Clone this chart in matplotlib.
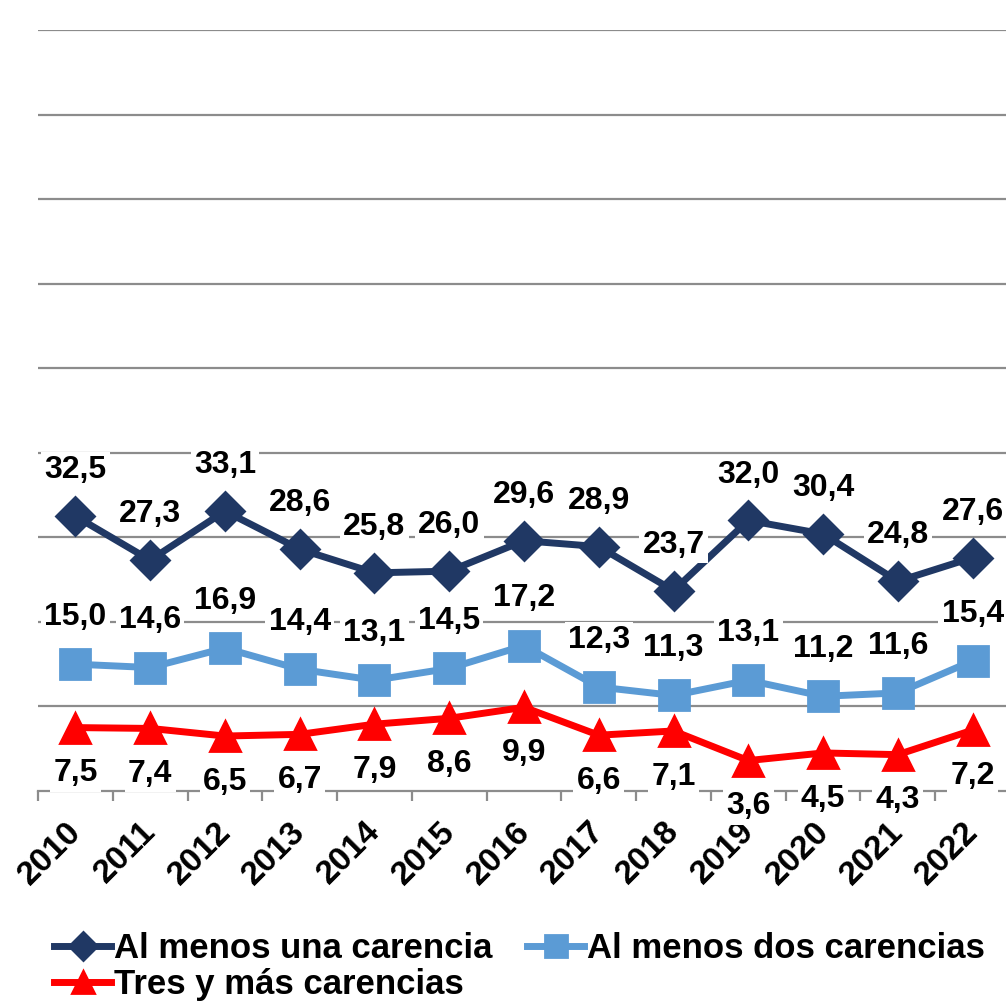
import matplotlib
matplotlib.use('Agg')
import matplotlib.pyplot as plt
import matplotlib.transforms as mtransforms
import numpy as np

plt.rcParams['font.family'] = ['Liberation Sans', 'DejaVu Sans']
plt.rcParams['font.weight'] = 'bold'

years = ['2010', '2011', '2012', '2013', '2014', '2015', '2016',
         '2017', '2018', '2019', '2020', '2021', '2022']
una = [32.5, 27.3, 33.1, 28.6, 25.8, 26.0, 29.6, 28.9, 23.7, 32.0, 30.4, 24.8, 27.6]
dos = [15.0, 14.6, 16.9, 14.4, 13.1, 14.5, 17.2, 12.3, 11.3, 13.1, 11.2, 11.6, 15.4]
tres = [7.5, 7.4, 6.5, 6.7, 7.9, 8.6, 9.9, 6.6, 7.1, 3.6, 4.5, 4.3, 7.2]

c_una = '#203864'
c_dos = '#5B9BD5'
c_tres = '#FF0000'
grid_c = '#8C8C8C'

fig = plt.figure(figsize=(10.06, 10.01), dpi=100)
ax = fig.add_axes([38/1006, 210/1001, 972/1006, 761/1001])

x = np.arange(len(years))

l1, = ax.plot(x, una, color=c_una, lw=5, marker='D', ms=19, mec=c_una, mew=2,
              solid_joinstyle='round', label='Al menos una carencia', zorder=3, clip_on=False)
l2, = ax.plot(x, dos, color=c_dos, lw=5, marker='s', ms=21, mec=c_dos, mew=2,
              label='Al menos dos carencias', zorder=3, clip_on=False)
l3, = ax.plot(x, tres, color=c_tres, lw=5, marker='^', ms=21, mec=c_tres, mew=2,
              label='Tres y más carencias', zorder=3, clip_on=False)

def fmt(v):
    return f'{v:.1f}'.replace('.', ',')

box = dict(boxstyle='square,pad=0.1', fc='white', ec='none')
for xi, v in zip(x, una):
    ax.annotate(fmt(v), (xi, v), xytext=(0, 33), textcoords='offset points',
                ha='center', va='center', fontsize=23, fontweight='bold',
                bbox=box, zorder=5, annotation_clip=False)
for xi, v in zip(x, dos):
    ax.annotate(fmt(v), (xi, v), xytext=(0, 34), textcoords='offset points',
                ha='center', va='center', fontsize=23, fontweight='bold',
                bbox=box, zorder=5, annotation_clip=False)
for xi, v in zip(x, tres):
    ax.annotate(fmt(v), (xi, v), xytext=(0, -33), textcoords='offset points',
                ha='center', va='center', fontsize=23, fontweight='bold',
                bbox=box, zorder=5, annotation_clip=False)

ax.set_xlim(-0.5, 12.5)
ax.set_ylim(0, 90)
ax.set_yticks(np.arange(10, 91, 10))
ax.yaxis.grid(True, color=grid_c, lw=1.6)
ax.set_axisbelow(True)
ax.tick_params(axis='y', left=False, labelleft=False)

ax.set_xticks(x)
ax.set_xticklabels(years, rotation=45, ha='right', va='top',
                   fontsize=24, fontweight='bold')
ax.tick_params(axis='x', which='major', length=0, pad=18)
ax.set_xticks(np.arange(-0.5, 12.6, 1), minor=True)
ax.tick_params(axis='x', which='minor', length=7, width=1.6, color=grid_c)
shift = mtransforms.ScaledTranslation(12/100, 0, fig.dpi_scale_trans)
for lab in ax.get_xticklabels():
    lab.set_transform(lab.get_transform() + shift)

for s in ['top', 'right', 'left']:
    ax.spines[s].set_visible(False)
ax.spines['bottom'].set_color(grid_c)
ax.spines['bottom'].set_linewidth(1.6)

fig.legend(handles=[l1, l3, l2], loc='lower left', bbox_to_anchor=(54/1006, 0.0),
           ncol=2, frameon=False, prop={'weight': 'bold', 'size': 25},
           handlelength=1.65, handletextpad=0.08, columnspacing=1.0,
           labelspacing=0.08, markerscale=0.75, borderaxespad=0.0, borderpad=0.0)

fig.savefig('out.png', dpi=100)
